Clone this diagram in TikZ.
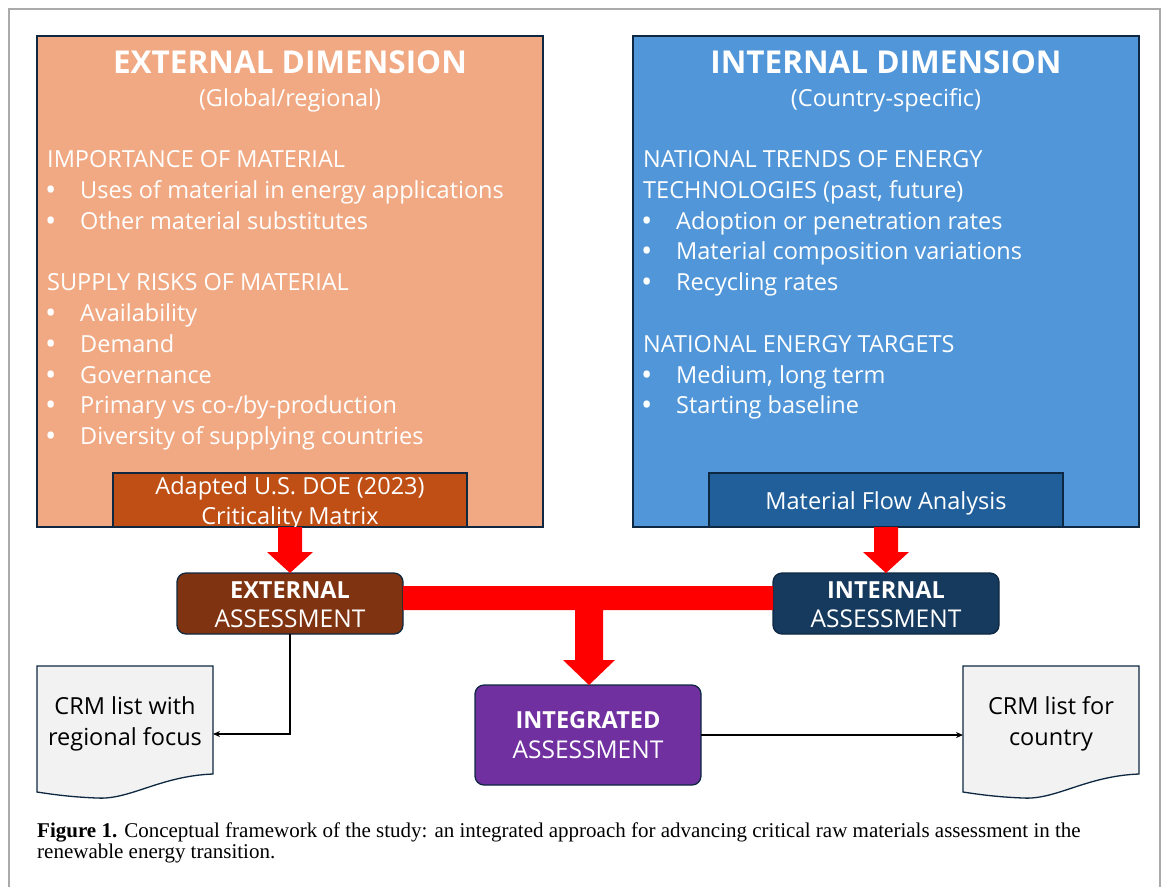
\documentclass[tikz,border=0pt]{standalone}
\usepackage{fontspec}
\setmainfont{Open Sans}
\newfontfamily\capfont{Liberation Serif}
\usetikzlibrary{arrows.meta}
\definecolor{extfill}{HTML}{F1A983}
\definecolor{intfill}{HTML}{5096D8}
\definecolor{adapt}{HTML}{C04F15}
\definecolor{mfa}{HTML}{215F9A}
\definecolor{extass}{HTML}{7F3310}
\definecolor{intass}{HTML}{163A5E}
\definecolor{integ}{HTML}{7030A0}
\definecolor{edge}{HTML}{0E2841}
\definecolor{docfill}{HTML}{F2F2F2}
\definecolor{framecol}{HTML}{AAAAAA}
\tikzset{
  bigbox/.style={draw=edge, line width=1.3pt},
  subbox/.style={draw=edge, line width=1.3pt},
  assbox/.style={draw=edge, line width=1.3pt, rounded corners=9pt},
  ttl/.style={text=white, inner sep=0pt, font=\fontsize{31.5}{36}\selectfont\bfseries},
  txtline/.style={anchor=base west, text=white, inner sep=0pt, font=\fontsize{23.5}{28}\selectfont},
  bul/.style={anchor=base west, text=white, inner sep=0pt, font=\fontsize{30}{28}\selectfont},
  ctr/.style={anchor=base, text=white, inner sep=0pt, font=\fontsize{23.5}{28}\selectfont},
  actr/.style={anchor=base, text=white, inner sep=0pt, font=\fontsize{24.5}{28}\selectfont},
  bctr/.style={anchor=base, text=white, inner sep=0pt, font=\fontsize{23.5}{28}\selectfont\bfseries},
  dctr/.style={anchor=base, text=black, inner sep=0pt, font=\fontsize{23.5}{28}\selectfont},
  redarrow/.style={fill=red, draw=none},
  conn/.style={draw=black, line width=1.2pt, -{Stealth[length=7pt,width=6pt]}},
  docshape/.style={draw=edge, line width=1.3pt, fill=docfill},
  captxt/.style={anchor=base west, inner sep=0pt, font=\capfont\fontsize{21}{24}\selectfont}
}
\begin{document}
\begin{tikzpicture}[x=1pt,y=-1pt]
\useasboundingbox (0,0) rectangle (1166,887);
\fill[white] (0,0) rectangle (1166,887);
% frame
\draw[framecol, line width=1.5pt] (9,887) -- (9,9) -- (1160,9) -- (1160,887);

% big boxes
\path[bigbox, fill=extfill] (37,36) rectangle (543,527);
\path[bigbox, fill=intfill] (633,36) rectangle (1139,527);

% external text
\node[ttl, anchor=base] (et) at (290,73) {EXTERNAL DIMENSION};
\node[ctr] (es) at (290,106) {(Global/regional)};
\node[txtline] (e1) at (47,167) {IMPORTANCE OF MATERIAL};
\node[bul] (e2b) at (45,200) {•};
\node[txtline] (e2) at (80,198) {Uses of material in energy applications};
\node[bul] (e3b) at (45,231) {•};
\node[txtline] (e3) at (80,229) {Other material substitutes};
\node[txtline] (e4) at (47,290) {SUPPLY RISKS OF MATERIAL};
\node[bul] (e5b) at (45,323) {•};
\node[txtline] (e5) at (80,321) {Availability};
\node[bul] (e6b) at (45,354) {•};
\node[txtline] (e6) at (80,352) {Demand};
\node[bul] (e7b) at (45,385) {•};
\node[txtline] (e7) at (80,383) {Governance};
\node[bul] (e8b) at (45,415) {•};
\node[txtline] (e8) at (80,413) {Primary vs co-/by-production};
\node[bul] (e9b) at (45,446) {•};
\node[txtline] (e9) at (80,444) {Diversity of supplying countries};

% internal text
\node[ttl, anchor=base] (it) at (886,73) {INTERNAL DIMENSION};
\node[ctr] (is) at (886,106) {(Country-specific)};
\node[txtline] (i1) at (643,167) {NATIONAL TRENDS OF ENERGY};
\node[txtline] (i2) at (643,198) {TECHNOLOGIES (past, future)};
\node[bul] (i3b) at (641,231) {•};
\node[txtline] (i3) at (676,229) {Adoption or penetration rates};
\node[bul] (i4b) at (641,261) {•};
\node[txtline] (i4) at (676,259) {Material composition variations};
\node[bul] (i5b) at (641,292) {•};
\node[txtline] (i5) at (676,290) {Recycling rates};
\node[txtline] (i6) at (643,352) {NATIONAL ENERGY TARGETS};
\node[bul] (i7b) at (641,385) {•};
\node[txtline] (i7) at (676,383) {Medium, long term};
\node[bul] (i8b) at (641,415) {•};
\node[txtline] (i8) at (676,413) {Starting baseline};

% sub boxes
\path[subbox, fill=adapt] (113,473) rectangle (467,527);
\node[ctr] (ad1) at (290,494) {Adapted U.S. DOE (2023)};
\node[ctr] (ad2) at (290,524) {Criticality Matrix};
\coordinate (adb) at (290,527);
\path[subbox, fill=mfa] (709,473) rectangle (1063,527);
\node[ctr] (mf) at (886,509) {Material Flow Analysis};
\coordinate (mfb) at (886,527);

% assessment boxes
\path[assbox, fill=extass] (177,573) rectangle (403,634);
\node[bctr] (ea1) at (290,598) {EXTERNAL};
\node[actr] (ea2) at (290,627) {ASSESSMENT};
\coordinate (eab) at (290,634);
\path[assbox, fill=intass] (773,573) rectangle (999,634);
\node[bctr] (ia1) at (886,598) {INTERNAL};
\node[actr] (ia2) at (886,627) {ASSESSMENT};
\path[assbox, fill=integ] (475,685) rectangle (701,785);
\node[bctr] (ga1) at (588,728) {INTEGRATED};
\node[actr] (ga2) at (588,758) {ASSESSMENT};
\coordinate (gar) at (701,735);

% red arrows
\path[redarrow] (278,527) -- (302,527) -- (302,552) -- (313,552) -- (290,573) -- (267,552) -- (278,552) -- cycle;
\path[redarrow] (874,527) -- (898,527) -- (898,552) -- (909,552) -- (886,573) -- (863,552) -- (874,552) -- cycle;
\path[redarrow] (403,586) -- (773,586) -- (773,610) -- (603,610) -- (603,660) -- (615,660) -- (589,685) -- (563,660) -- (575,660) -- (575,610) -- (403,610) -- cycle;

% documents
\path[docshape] (37,666) -- (213,666) -- (213,774) .. controls (160,776) and (130,800) .. (97,798) .. controls (70,797) and (50,794) .. (37,792) -- cycle;
\node[dctr] (d1a) at (125,714) {CRM list with};
\node[dctr] (d1b) at (125,745) {regional focus};
\coordinate (d1l) at (213,734);
\path[docshape] (963,666) -- (1139,666) -- (1139,774) .. controls (1086,776) and (1056,800) .. (1023,798) .. controls (996,797) and (976,794) .. (963,792) -- cycle;
\node[dctr] (d2a) at (1051,714) {CRM list for};
\node[dctr] (d2b) at (1051,745) {country};
\coordinate (d2l) at (963,735);

% connectors
\draw[conn] (eab) |- (d1l);
\draw[conn] (gar) -- (d2l);

% caption
\node[captxt] (c1) at (37,837) {\textbf{Figure 1.} Conceptual framework of the study: an integrated approach for advancing critical raw materials assessment in the};
\node[captxt] (c2) at (37,858) {renewable energy transition.};
\end{tikzpicture}
\end{document}
